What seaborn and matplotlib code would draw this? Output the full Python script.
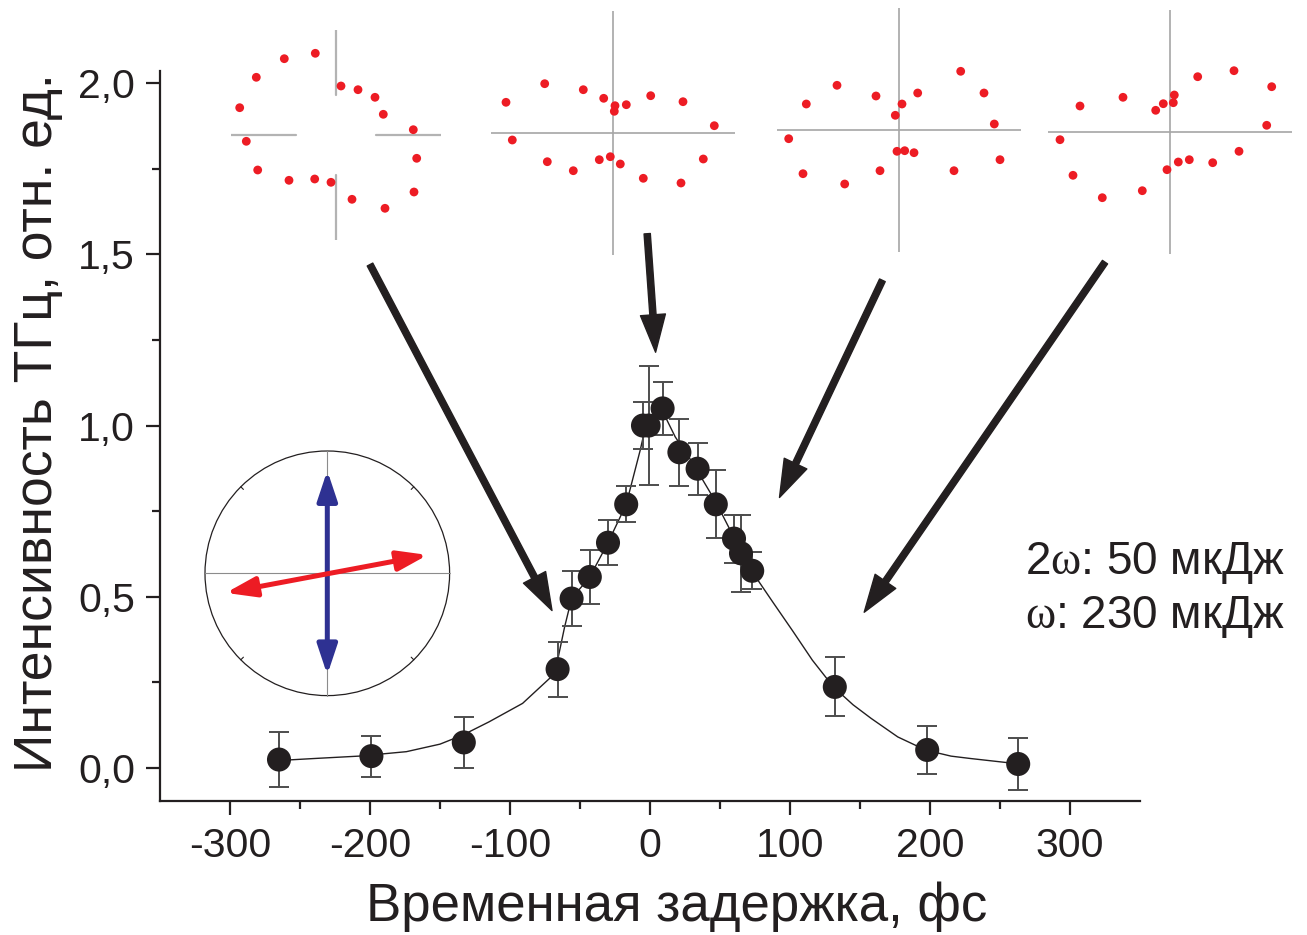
import math
import matplotlib
matplotlib.use("Agg")
import matplotlib.pyplot as plt
import seaborn as sns
import pandas as pd
from matplotlib.patches import Circle, FancyArrowPatch

# ---------------- data ----------------
delay = [-265, -199, -133, -66, -56, -43, -30, -17, -5, -1, 9, 21, 34, 47, 60, 65, 73, 132, 198, 263]
intensity = [0.025, 0.035, 0.075, 0.289, 0.495, 0.558, 0.658, 0.770, 1.000, 1.000, 1.050, 0.922,
             0.874, 0.770, 0.670, 0.627, 0.576, 0.237, 0.053, 0.012]
error = [0.081, 0.060, 0.075, 0.080, 0.080, 0.078, 0.065, 0.053, 0.068, 0.174, 0.077, 0.098,
         0.076, 0.099, 0.070, 0.113, 0.054, 0.086, 0.070, 0.076]

fit_delay = [-266, -240, -208, -174, -150, -134, -115, -91, -68, -61, -56, -43, -30, -17, -7, -3,
             3, 8, 18, 30, 47, 61, 73, 88, 102, 116, 131, 145, 158, 177, 197, 215, 229, 264]
fit_intensity = [0.022, 0.028, 0.035, 0.048, 0.070, 0.096, 0.135, 0.189, 0.276, 0.412, 0.495, 0.558,
                 0.658, 0.770, 0.928, 1.000, 1.040, 1.050, 0.967, 0.894, 0.777, 0.665, 0.573, 0.483,
                 0.400, 0.315, 0.237, 0.185, 0.145, 0.091, 0.0525, 0.035, 0.028, 0.012]

x_ticks = [-300, -200, -100, 0, 100, 200, 300]
x_tick_labels = ["-300", "-200", "-100", "0", "100", "200", "300"]
y_ticks = [0.0, 0.5, 1.0, 1.5, 2.0]
y_tick_labels = ["0,0", "0,5", "1,0", "1,5", "2,0"]

x_label = "Временная задержка, фс"
y_label = "Интенсивность ТГц, отн. ед."
energy_lines = ["2$\\mathrm{\\omega}$: 50 мкДж", "$\\mathrm{\\omega}$: 230 мкДж"]

# polarization diagrams (offsets from the cross centre)
pol1_x = [-20.4, -51.4, -79.4, -96.0, -89.4, -78.0, -46.7, -21.0, -4.7, 16.3, 49.3, 78.3, 81.0, 77.6, 47.6, 39.3, 22.3, 5.3]
pol1_y = [81.7, 76.3, 57.7, 27.3, -6.3, -35.0, -45.3, -44.0, -47.3, -64.3, -73.3, -57.0, -23.3, 5.3, 20.7, 37.7, 45.3, 49.0]
pol2_x = [-106.7, -68.0, -29.4, -9.0, 2.3, 1.6, 13.6, 38.0, 70.3, 101.6, 90.6, 68.3, 30.6, 7.6, -2.4, -13.4, -39.4, -65.4, -100.4]
pol2_y = [30.4, 49.0, 43.0, 34.4, 27.0, 21.4, 28.0, 37.0, 31.0, 7.0, -26.3, -50.3, -45.6, -31.3, -24.0, -27.0, -38.0, -29.0, -7.3]
pol3_x = [-92.7, -62.0, -23.0, -3.7, 3.0, 18.7, 61.7, 85.0, 95.3, 101.0, 55.0, 15.0, 5.7, -2.0, -19.0, -54.3, -96.0, -110.3]
pol3_y = [26.3, 45.0, 34.3, 15.0, 26.3, 37.3, 59.0, 37.3, 6.3, -29.4, -40.4, -22.4, -20.4, -21.0, -40.4, -53.7, -43.4, -8.4]
pol4_x = [-90.3, -47.3, -14.6, -7.0, 3.0, 4.0, 27.4, 63.7, 101.4, 96.4, 68.7, 42.4, 19.0, 8.0, -3.3, -28.0, -68.0, -97.3, -110.3]
pol4_y = [25.7, 34.4, 21.4, 28.0, 29.0, 36.7, 55.0, 61.0, 45.0, 6.4, -19.6, -31.0, -28.0, -30.3, -38.0, -59.0, -66.0, -43.6, -8.0]

# arrows from diagrams to the curve (data coordinates: tail -> head)
arrow_tail_x = [-200, -2, 166, 325]
arrow_tail_y = [1.47, 1.56, 1.424, 1.477]
arrow_head_x = [-70, 4, 92.5, 153]
arrow_head_y = [0.46, 1.214, 0.79, 0.455]

# polarization-geometry inset: blue (2w) and red (w) double arrows, in units of circle radius
blue_arrow = [(0.0, -0.83), (0.0, 0.84)]
red_arrow = [(-0.83, -0.16), (0.82, 0.15)]

# ---------------- style ----------------
sns.set_theme(style="ticks")
plt.rcParams["font.family"] = ["Liberation Sans", "DejaVu Sans"]
plt.rcParams["mathtext.fontset"] = "custom"
plt.rcParams["mathtext.rm"] = "Liberation Serif"
plt.rcParams["mathtext.it"] = "Liberation Serif:italic"

INK = "#231f20"
RED = "#ed1c24"
BLUE = "#2e3192"
GRAY = "#a6a6a6"

W, H = 1307, 935
fig = plt.figure(figsize=(W / 100, H / 100), dpi=100)


def px_axes(x0, y0, x1, y1, **kw):
    return fig.add_axes([x0 / W, 1 - y1 / H, (x1 - x0) / W, (y1 - y0) / H], **kw)


ax = px_axes(160, 71, 1140, 801)
ax.set_facecolor("none")

df = pd.DataFrame({"delay": delay, "intensity": intensity})
fit = pd.DataFrame({"delay": fit_delay, "intensity": fit_intensity})

sns.lineplot(data=fit, x="delay", y="intensity", ax=ax, color=INK, lw=1.0, sort=False, zorder=2)
ax.errorbar(delay, intensity, yerr=error, fmt="none", ecolor="#4d4d4d", elinewidth=1.4,
            capsize=7.5, capthick=1.4, zorder=3)
sns.scatterplot(data=df, x="delay", y="intensity", ax=ax, s=300, color=INK, edgecolor="none",
                linewidth=0, zorder=4)

ax.set_xlim(-350, 350)
ax.set_ylim(-0.096, 2.035)
ax.set_xticks(x_ticks)
ax.set_xticklabels(x_tick_labels)
ax.set_xticks([v + 50 for v in x_ticks[:-1]], minor=True)
ax.set_yticks(y_ticks)
ax.set_yticklabels(y_tick_labels)
ax.set_yticks([v + 0.25 for v in y_ticks[:-1]], minor=True)

for s in ["top", "right"]:
    ax.spines[s].set_visible(False)
for s in ["left", "bottom"]:
    ax.spines[s].set_linewidth(1.6)
    ax.spines[s].set_color(INK)

ax.tick_params(axis="both", which="major", direction="out", length=10, width=1.6, color=INK,
               labelsize=29.5, labelcolor=INK)
ax.tick_params(axis="both", which="minor", direction="out", length=6, width=1.6, color=INK)
ax.tick_params(axis="x", which="major", pad=9)
ax.tick_params(axis="y", which="major", pad=8)

ax.set_xlabel(x_label, fontsize=38, color=INK)
ax.xaxis.set_label_coords((676.5 - 160) / 980, (801 - 921) / 730)
ax.xaxis.label.set_va("baseline")
ax.set_ylabel(y_label, fontsize=38.5, color=INK,
              fontfamily=["Liberation Sans Narrow", "Liberation Sans", "DejaVu Sans"])
ax.yaxis.set_label_coords((38 - 160) / 980, (801 - 423) / 730)
ax.yaxis.label.set_va("center")

ax.text(1285 / W, 1 - 563 / H, energy_lines[0], transform=fig.transFigure, fontsize=33,
        color=INK, ha="right", va="center")
ax.text(1285 / W, 1 - 617 / H, energy_lines[1], transform=fig.transFigure, fontsize=33,
        color=INK, ha="right", va="center")

for tx, ty, hx, hy in zip(arrow_tail_x, arrow_tail_y, arrow_head_x, arrow_head_y):
    ax.annotate("", xy=(hx, hy), xytext=(tx, ty), xycoords="data", textcoords="data",
                annotation_clip=False,
                arrowprops=dict(facecolor=INK, edgecolor=INK, width=4.5, headwidth=18,
                                headlength=27, shrink=0), zorder=5)

# ---------------- polarization diagrams ----------------
pol_sets = [(pol1_x, pol1_y, 335.7, 135, 105), (pol2_x, pol2_y, 612.7, 132.7, 122),
            (pol3_x, pol3_y, 899, 130.3, 122), (pol4_x, pol4_y, 1170.3, 131.7, 122)]
for i, (px, py, cx, cy, r) in enumerate(pol_sets):
    a = px_axes(cx - r, cy - r, cx + r, cy + r)
    a.set_xlim(-r, r)
    a.set_ylim(-r, r)
    a.axis("off")
    if i == 0:
        gap = 40
        a.plot([0, 0], [gap, r], color="#b3b3b3", lw=1.6, zorder=1)
        a.plot([0, 0], [-r, -gap], color="#b3b3b3", lw=1.6, zorder=1)
        a.plot([-r, -gap], [0, 0], color="#b3b3b3", lw=1.6, zorder=1)
        a.plot([gap, r], [0, 0], color="#b3b3b3", lw=1.6, zorder=1)
    else:
        a.axhline(0, color=GRAY, lw=1.2, zorder=1)
        a.axvline(0, color=GRAY, lw=1.2, zorder=1)
    sns.scatterplot(x=px, y=py, ax=a, s=40, color=RED, edgecolor="none", linewidth=0, zorder=3)

# ---------------- geometry inset ----------------
cx, cy, rr = 327.3, 573.3, 122.3
g = px_axes(cx - rr * 1.05, cy - rr * 1.05, cx + rr * 1.05, cy + rr * 1.05)
g.set_xlim(-1.05, 1.05)
g.set_ylim(-1.05, 1.05)
g.axis("off")
g.add_patch(Circle((0, 0), 1.0, fill=False, ec=INK, lw=0.9))
g.plot([-1, 1], [0, 0], color="#8c8c8c", lw=0.8)
g.plot([0, 0], [-1, 1], color="#8c8c8c", lw=0.8)
for ang in [45, 135, 225, 315]:
    c, s_ = math.cos(math.radians(ang)), math.sin(math.radians(ang))
    g.plot([0.97 * c, c], [0.97 * s_, s_], color=INK, lw=0.8)
for (p0, p1), col in [(blue_arrow, BLUE), (red_arrow, RED)]:
    g.add_patch(FancyArrowPatch(p0, p1, arrowstyle="<|-|>,head_length=18,head_width=6",
                                mutation_scale=1, color=col, lw=3.6, shrinkA=0, shrinkB=0,
                                zorder=3))

fig.savefig("out.png", dpi=100)
